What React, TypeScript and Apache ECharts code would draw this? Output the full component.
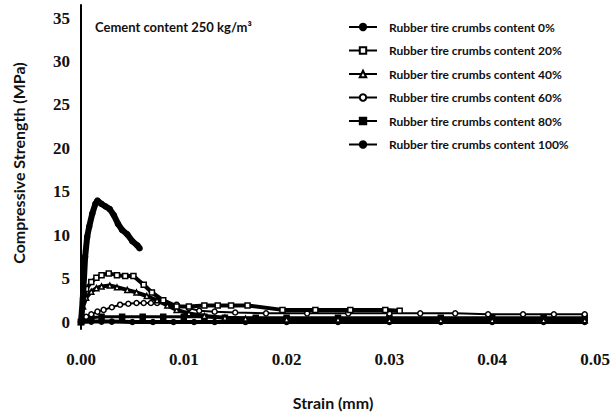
import React, { useEffect, useRef } from "react";
import * as echarts from "echarts";

const seriesNames = [
  "Rubber tire crumbs content 0%",
  "Rubber tire crumbs content 20%",
  "Rubber tire crumbs content 40%",
  "Rubber tire crumbs content 60%",
  "Rubber tire crumbs content 80%",
  "Rubber tire crumbs content 100%",
];

const xTicks = [0, 0.01, 0.02, 0.03, 0.04, 0.05];
const yTicks = [0, 5, 10, 15, 20, 25, 30, 35];

const rubber0 = [
  [0, 0], [0.0002, 3], [0.0004, 7.5], [0.0006, 9.8], [0.0008, 11], [0.0011, 12.5],
  [0.0014, 13.6], [0.0016, 14.0], [0.002, 13.6], [0.0024, 13.3], [0.0028, 13.0],
  [0.0032, 12.3], [0.0036, 11.3], [0.004, 10.6], [0.0045, 10.1], [0.005, 9.3],
  [0.0055, 8.8], [0.0057, 8.5],
];
const rubber20 = [
  [0, 0], [0.0002, 2.5], [0.0005, 3.8], [0.001, 4.6], [0.0015, 5.1], [0.002, 5.4],
  [0.0027, 5.6], [0.0035, 5.4], [0.0043, 5.3], [0.0051, 5.3], [0.0061, 4.3],
  [0.0069, 3.4], [0.008, 2.5], [0.0093, 1.8], [0.0105, 1.8], [0.012, 1.9],
  [0.0133, 1.9], [0.0146, 1.9], [0.0162, 1.9], [0.0196, 1.4], [0.0228, 1.4],
  [0.0262, 1.4], [0.0296, 1.4], [0.031, 1.3],
];
const rubber40 = [
  [0, 0], [0.0002, 1.8], [0.0005, 2.8], [0.001, 3.5], [0.0015, 3.9], [0.002, 4.1],
  [0.0028, 4.2], [0.0035, 4.0], [0.0045, 3.7], [0.0054, 3.4], [0.0064, 3.0],
  [0.0074, 2.5], [0.0084, 1.9], [0.0093, 1.4], [0.0105, 1.0], [0.012, 0.7],
  [0.014, 0.5], [0.016, 0.4], [0.02, 0.3], [0.025, 0.3], [0.03, 0.2], [0.035, 0.2],
  [0.04, 0.2], [0.045, 0.2], [0.049, 0.2],
];
const rubber60 = [
  [0, 0], [0.0005, 0.6], [0.001, 0.9], [0.0016, 1.2], [0.0022, 1.4], [0.003, 1.7],
  [0.0038, 2.0], [0.0046, 2.1], [0.0054, 2.2], [0.0061, 2.2], [0.0068, 2.2],
  [0.0074, 2.2], [0.0084, 2.1], [0.0093, 2.0], [0.0105, 1.6], [0.0115, 1.3],
  [0.013, 1.2], [0.015, 1.1], [0.018, 1.0], [0.022, 1.0], [0.026, 1.0], [0.03, 1.0],
  [0.033, 1.0], [0.0364, 1.0], [0.0396, 0.9], [0.043, 0.9], [0.046, 0.9], [0.049, 0.9],
];
const rubber80 = [
  [0, 0], [0.0005, 0.4], [0.001, 0.5], [0.002, 0.6], [0.004, 0.6], [0.006, 0.6],
  [0.008, 0.6], [0.01, 0.6], [0.012, 0.6], [0.014, 0.5], [0.017, 0.5], [0.02, 0.5],
  [0.025, 0.5], [0.03, 0.5], [0.035, 0.5], [0.04, 0.5], [0.045, 0.5], [0.049, 0.5],
];
const rubber100 = [
  [0, 0], [0.001, 0.05], [0.002, 0.05], [0.003, 0.05], [0.005, 0.0], [0.007, 0.0],
  [0.009, 0.0], [0.011, 0.0], [0.013, 0.0], [0.016, 0.0], [0.02, 0.0], [0.025, 0.0],
  [0.03, 0.0], [0.035, 0.0], [0.04, 0.0], [0.045, 0.0], [0.049, 0.0],
];

const allData = [rubber0, rubber20, rubber40, rubber60, rubber80, rubber100];
const symbols = ["circle", "rect", "triangle", "circle", "rect", "circle"];
const hollow = [false, true, true, true, false, false];
const widths = [6, 4, 4, 2, 3, 4];

export default function App() {
  const ref = useRef<HTMLDivElement>(null);
  useEffect(() => {
    if (!ref.current) return;
    const chart = echarts.init(ref.current, undefined, { renderer: "svg" });
    const sans = "Lato, 'Open Sans', sans-serif";
    const serif = "'Liberation Serif', 'DejaVu Serif', serif";
    chart.setOption({
      animation: false,
      backgroundColor: "#ffffff",
      grid: { left: 81, right: 19, top: 5, bottom: 86, containLabel: false },
      legend: {
        orient: "vertical",
        left: 343,
        top: 16,
        itemWidth: 28,
        itemHeight: 8,
        itemGap: 11.5,
        data: seriesNames,
        textStyle: {
          fontFamily: sans,
          fontWeight: "bold",
          fontSize: 12,
          color: "#111",
          padding: [0, 0, 0, 7],
        },
      },
      xAxis: {
        type: "value",
        min: 0,
        max: 0.05,
        interval: 0.01,
        axisLine: { show: false },
        axisTick: { show: false },
        splitLine: { show: false },
        axisLabel: {
          margin: 22,
          fontFamily: serif,
          fontWeight: "bold",
          fontSize: 17,
          color: "#111",
          formatter: (v: number) => v.toFixed(2),
          customValues: xTicks,
        },
      },
      yAxis: {
        type: "value",
        min: -0.8,
        max: 36.5,
        axisLine: { show: true, lineStyle: { color: "#000", width: 2 } },
        axisTick: { show: false },
        splitLine: { show: false },
        axisLabel: {
          margin: 11,
          fontFamily: serif,
          fontWeight: "bold",
          fontSize: 17,
          color: "#111",
          customValues: yTicks,
        },
      },
      graphic: [
        {
          type: "text",
          x: 95,
          y: 27,
          style: {
            text: "Cement content 250 kg/m³",
            fontFamily: sans,
            fontWeight: "bold",
            fontSize: 13,
            fill: "#111",
            textVerticalAlign: "middle",
          },
        },
        {
          type: "text",
          x: 18,
          y: 163,
          rotation: Math.PI / 2,
          style: {
            text: "Compressive Strength (MPa)",
            fontFamily: sans,
            fontWeight: "bold",
            fontSize: 16,
            fill: "#111",
            textAlign: "center",
            textVerticalAlign: "middle",
          },
        },
        {
          type: "text",
          x: 333,
          y: 402,
          style: {
            text: "Strain (mm)",
            fontFamily: sans,
            fontWeight: "bold",
            fontSize: 16,
            fill: "#111",
            textAlign: "center",
            textVerticalAlign: "middle",
          },
        },
      ],
      series: allData.map((d, i) => ({
        name: seriesNames[i],
        type: "line",
        data: d,
        symbol: symbols[i],
        symbolSize: 5,
        showSymbol: true,
        lineStyle: { color: "#000", width: widths[i] },
        itemStyle: {
          color: hollow[i] ? "#fff" : "#000",
          borderColor: "#000",
          borderWidth: 1.5,
        },
        z: 10 - i,
      })),
    });
    return () => chart.dispose();
  }, []);
  return (
    <div
      ref={ref}
      style={{ position: "absolute", left: 0, top: 0, width: 614, height: 415 }}
    />
  );
}
